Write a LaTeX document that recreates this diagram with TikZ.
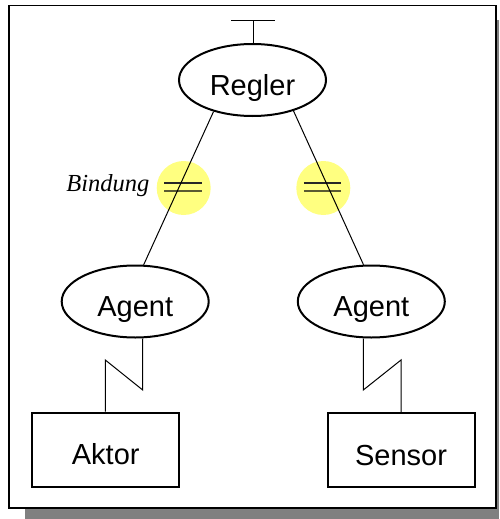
\documentclass[tikz,border=0pt]{standalone}
\usepackage{fontspec}
\setmainfont{Liberation Sans}
\newfontfamily\serifit{Liberation Serif}
\usetikzlibrary{shapes.geometric}
\definecolor{shadowgray}{RGB}{128,128,128}
\definecolor{bindyellow}{RGB}{255,255,128}
\definecolor{olivebar}{RGB}{90,90,50}
\tikzset{
  agentbox/.style={ellipse, draw, line width=2pt, minimum width=147pt, minimum height=72pt, inner sep=0pt, text height=30pt, text depth=0pt, font=\fontsize{29}{35}\selectfont},
  devbox/.style={rectangle, draw, line width=2pt, minimum width=147pt, minimum height=74pt, inner sep=0pt, text height=30pt, text depth=0pt, font=\fontsize{29}{35}\selectfont},
  thinline/.style={line width=1pt},
  bindcircle/.style={circle, fill=bindyellow, minimum size=54pt, inner sep=0pt},
  bindbar/.style={line width=2pt},
}
\begin{document}
\begin{tikzpicture}[x=1pt, y=-1pt]
\useasboundingbox (0,0) rectangle (499,519);
% shadow and frame
\fill[shadowgray] (25,20) rectangle (499,519);
\draw[line width=1.5pt, fill=white] (9,5.7) rectangle (496,508);
% binding circles (below lines)
\node[bindcircle] (bindL) at (183.7,188) {};
\node[bindcircle] (bindR) at (323.3,188) {};
% nodes
\node[agentbox] (regler) at (252.5,80) {Regler};
\node[agentbox] (agentL) at (135.2,301.5) {Agent};
\node[agentbox] (agentR) at (371.3,301.5) {Agent};
\node[devbox] (aktor) at (105.7,449.5) {Aktor};
\node[devbox] (sensor) at (401,450) {Sensor};
\node[anchor=base west, inner sep=0pt, font=\serifit\itshape\fontsize{24.5}{29}\selectfont] (bindlabel) at (66.2,191.7) {Bindung};
% T on top of Regler
\coordinate (ttop) at (253,20.7);
\coordinate (tl) at (231,20.7);
\coordinate (tr) at (275,20.7);
\draw[thinline] (regler.north -| ttop) -- (ttop);
\draw[thinline] (tl) -- (tr);
% double bars
\draw[bindbar, black!85] ([xshift=-19.4pt,yshift=4.7pt]bindL.center) -- ([xshift=18pt,yshift=4.7pt]bindL.center);
\draw[bindbar, olivebar] ([xshift=-19.4pt,yshift=-2.7pt]bindL.center) -- ([xshift=18pt,yshift=-2.7pt]bindL.center);
\draw[bindbar, black!85] ([xshift=-19.4pt,yshift=4.7pt]bindR.center) -- ([xshift=18pt,yshift=4.7pt]bindR.center);
\draw[bindbar, olivebar] ([xshift=-19.4pt,yshift=-2.7pt]bindR.center) -- ([xshift=18pt,yshift=-2.7pt]bindR.center);
% Regler to agents
\draw[thinline] (regler.219) -- (agentL.77);
\draw[thinline] (regler.323) -- (agentR.102);
% zigzag connectors
\coordinate (zl1) at (142.7,390);
\coordinate (zl2) at (105.3,360);
\draw[thinline] (agentL.south -| zl1) -- (zl1) -- (zl2) -- (zl2 |- aktor.north);
\coordinate (zr1) at (363.3,390);
\coordinate (zr2) at (401,360);
\draw[thinline] (agentR.south -| zr1) -- (zr1) -- (zr2) -- (zr2 |- sensor.north);
\end{tikzpicture}
\end{document}
